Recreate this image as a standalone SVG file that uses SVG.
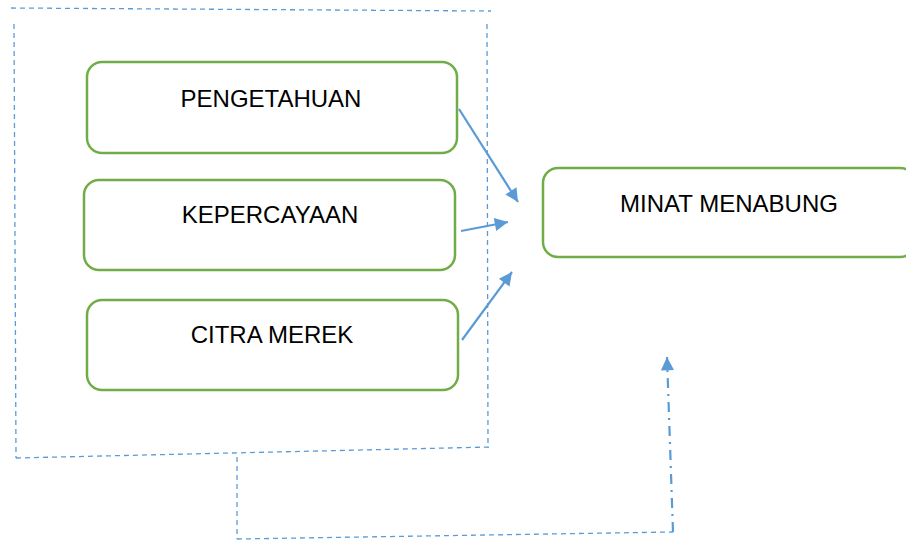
<svg xmlns="http://www.w3.org/2000/svg" width="906" height="540" viewBox="0 0 906 540">
<style>
.box{fill:#fff;stroke:#70AD47;stroke-width:2.5}
.lbl{font-family:"Liberation Sans",Arial,sans-serif;font-size:24px;fill:#000;text-anchor:middle}
.dash{fill:none;stroke:#5B9BD5;stroke-width:1.3;stroke-dasharray:5 4}
.arr{fill:none;stroke:#5B9BD5;stroke-width:2.2}
.dd{fill:none;stroke:#5B9BD5;stroke-width:2.2;stroke-dasharray:10 6 2 6}
</style>
<defs>
<marker id="ah" viewBox="0 0 10 10" refX="10" refY="5" markerWidth="7" markerHeight="6" markerUnits="strokeWidth" orient="auto">
<path d="M0,0 L10,5 L0,10 z" fill="#5B9BD5"/>
</marker>
</defs>
<rect width="906" height="540" fill="#fff"/>
<g id="frames">
<line class="dash" x1="11" y1="8" x2="491" y2="11"/>
<line class="dash" x1="14" y1="24" x2="16" y2="458"/>
<line class="dash" x1="487" y1="24" x2="488" y2="448"/>
<line class="dash" x1="16" y1="458" x2="490" y2="447"/>
<line class="dash" x1="237" y1="457" x2="237" y2="539"/>
<line class="dash" x1="237" y1="539" x2="673" y2="532"/>
</g>
<g id="node-pengetahuan">
<rect class="box" x="87" y="62" width="370" height="91" rx="15"/>
<text class="lbl" x="271" y="107">PENGETAHUAN</text>
</g>
<g id="node-kepercayaan">
<rect class="box" x="84" y="180" width="371" height="90" rx="15"/>
<text class="lbl" x="270" y="223">KEPERCAYAAN</text>
</g>
<g id="node-citra">
<rect class="box" x="87" y="300" width="371" height="90" rx="15"/>
<text class="lbl" x="272" y="343">CITRA MEREK</text>
</g>
<g id="node-minat">
<rect class="box" x="543" y="168" width="372" height="89" rx="15"/>
<text class="lbl" x="729" y="212">MINAT MENABUNG</text>
</g>
<g id="connectors">
<line class="arr" x1="459" y1="109" x2="518" y2="202" marker-end="url(#ah)"/>
<line class="arr" x1="461" y1="231" x2="508" y2="222" marker-end="url(#ah)"/>
<line class="arr" x1="462" y1="340" x2="512" y2="272" marker-end="url(#ah)"/>
<line class="dd" x1="673" y1="532" x2="667" y2="357" marker-end="url(#ah)"/>
</g>
</svg>
